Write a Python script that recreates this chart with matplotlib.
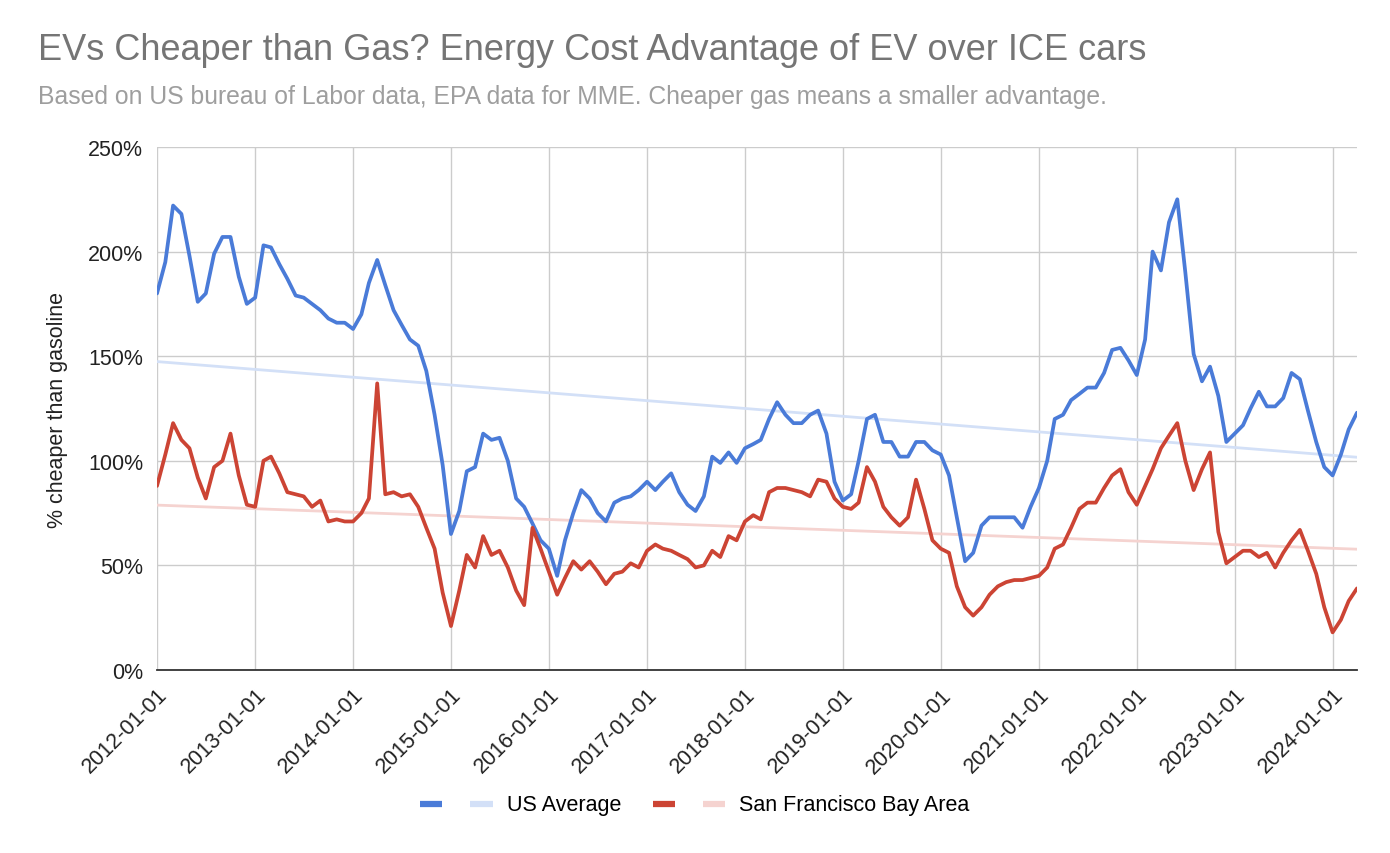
import numpy as np
import pandas as pd
import matplotlib.pyplot as plt
from matplotlib.lines import Line2D
from matplotlib.legend_handler import HandlerTuple
import matplotlib.ticker as mticker

plt.rcParams["font.family"] = ["Liberation Sans", "DejaVu Sans"]

# monthly values, 2012-01 .. 2024-04
months = pd.date_range("2012-01-01", "2024-04-01", freq="MS")

us_avg = [
    180, 195, 222, 218, 198, 176, 180, 199, 207, 207, 188, 175,   # 2012
    178, 203, 202, 194, 187, 179, 178, 175, 172, 168, 166, 166,   # 2013
    163, 170, 185, 196, 184, 172, 165, 158, 155, 143, 122, 98,    # 2014
    65, 76, 95, 97, 113, 110, 111, 100, 82, 78, 70, 62,           # 2015
    58, 45, 62, 75, 86, 82, 75, 71, 80, 82, 83, 86,               # 2016
    90, 86, 90, 94, 85, 79, 76, 83, 102, 99, 104, 99,             # 2017
    106, 108, 110, 120, 128, 122, 118, 118, 122, 124, 113, 90,    # 2018
    81, 84, 100, 120, 122, 109, 109, 102, 102, 109, 109, 105,     # 2019
    103, 93, 73, 52, 56, 69, 73, 73, 73, 73, 68, 78,              # 2020
    87, 100, 120, 122, 129, 132, 135, 135, 142, 153, 154, 148,    # 2021
    141, 158, 200, 191, 214, 225, 190, 151, 138, 145, 131, 109,   # 2022
    113, 117, 125, 133, 126, 126, 130, 142, 139, 124, 109, 97,    # 2023
    93, 103, 115, 123,                                            # 2024
]

sf_bay = [
    88, 103, 118, 110, 106, 92, 82, 97, 100, 113, 93, 79,         # 2012
    78, 100, 102, 94, 85, 84, 83, 78, 81, 71, 72, 71,             # 2013
    71, 75, 82, 137, 84, 85, 83, 84, 78, 68, 58, 37,              # 2014
    21, 38, 55, 49, 64, 55, 57, 49, 38, 31, 68, 58,               # 2015
    47, 36, 44, 52, 48, 52, 47, 41, 46, 47, 51, 49,               # 2016
    57, 60, 58, 57, 55, 53, 49, 50, 57, 54, 64, 62,               # 2017
    71, 74, 72, 85, 87, 87, 86, 85, 83, 91, 90, 82,               # 2018
    78, 77, 80, 97, 90, 78, 73, 69, 73, 91, 77, 62,               # 2019
    58, 56, 40, 30, 26, 30, 36, 40, 42, 43, 43, 44,               # 2020
    45, 49, 58, 60, 68, 77, 80, 80, 87, 93, 96, 85,               # 2021
    79, 88, 96, 106, 112, 118, 100, 86, 96, 104, 66, 51,          # 2022
    54, 57, 57, 54, 56, 49, 56, 62, 67, 57, 46, 30,               # 2023
    18, 24, 33, 39,                                               # 2024
]

series_names = ["US Average", "San Francisco Bay Area"]
line_colors = ["#4a7bd8", "#cc4434"]
trend_colors = ["#d3e0f7", "#f5d3d0"]

year_ticks = pd.date_range("2012-01-01", "2024-01-01", freq="YS")

fig = plt.figure(figsize=(13.9, 8.54), dpi=100)
ax = fig.add_axes([157 / 1390, 1 - 671 / 854, 1200 / 1390, 523 / 854])

# linear trendlines, least squares on month index
t = np.arange(len(months))
handles = []
for vals, c, tc in zip([us_avg, sf_bay], line_colors, trend_colors):
    coef = np.polyfit(t, vals, 1)
    ax.plot(months, np.polyval(coef, t), color=tc, lw=2.0, zorder=2)
    ax.plot(months, vals, color=c, lw=2.7, zorder=3,
            solid_joinstyle="round", solid_capstyle="round")
    # legend swatches: series colour, then trendline colour
    handles.append((Line2D([], [], color=c, lw=4.5, solid_capstyle="butt"),
                    Line2D([], [], color=tc, lw=4.5, solid_capstyle="butt")))

ax.set_xlim(months[0], months[-1])
ax.set_ylim(0, 250)
ax.yaxis.set_major_locator(mticker.MultipleLocator(50))
ax.yaxis.set_major_formatter(mticker.FuncFormatter(lambda v, p: f"{v:.0f}%"))
ax.set_xticks(year_ticks)
ax.set_xticklabels([d.strftime("%Y-%m-%d") for d in year_ticks],
                   rotation=45, ha="right", rotation_mode="anchor")

ax.grid(True, color="#cccccc", lw=1.0)
ax.set_axisbelow(True)
for s in ["top", "right", "left"]:
    ax.spines[s].set_visible(False)
ax.spines["bottom"].set_color("#333333")
ax.spines["bottom"].set_linewidth(1.3)
ax.spines["bottom"].set_zorder(4)
ax.tick_params(axis="both", length=0, labelsize=15.5, colors="#222222")
ax.tick_params(axis="y", pad=10)
ax.tick_params(axis="x", pad=10)

ax.set_ylabel("% cheaper than gasoline", fontsize=15.5, color="#222222", labelpad=14)

fig.text(38 / 1390, 1 - 50 / 854, "EVs Cheaper than Gas? Energy Cost Advantage of EV over ICE cars",
         fontsize=26, color="#757575", va="center", ha="left")
fig.text(38 / 1390, 1 - 97 / 854,
         "Based on US bureau of Labor data, EPA data for MME. Cheaper gas means a smaller advantage.",
         fontsize=17.8, color="#9e9e9e", va="center", ha="left")

fig.legend(handles, series_names, loc="center", bbox_to_anchor=(0.5, 1 - 806 / 854),
           ncol=2, frameon=False, fontsize=15.5, handlelength=3.35, handleheight=0.5,
           columnspacing=1.5, handletextpad=0.65,
           handler_map={tuple: HandlerTuple(ndivide=None, pad=1.3)})

fig.savefig("out.png", dpi=100)
